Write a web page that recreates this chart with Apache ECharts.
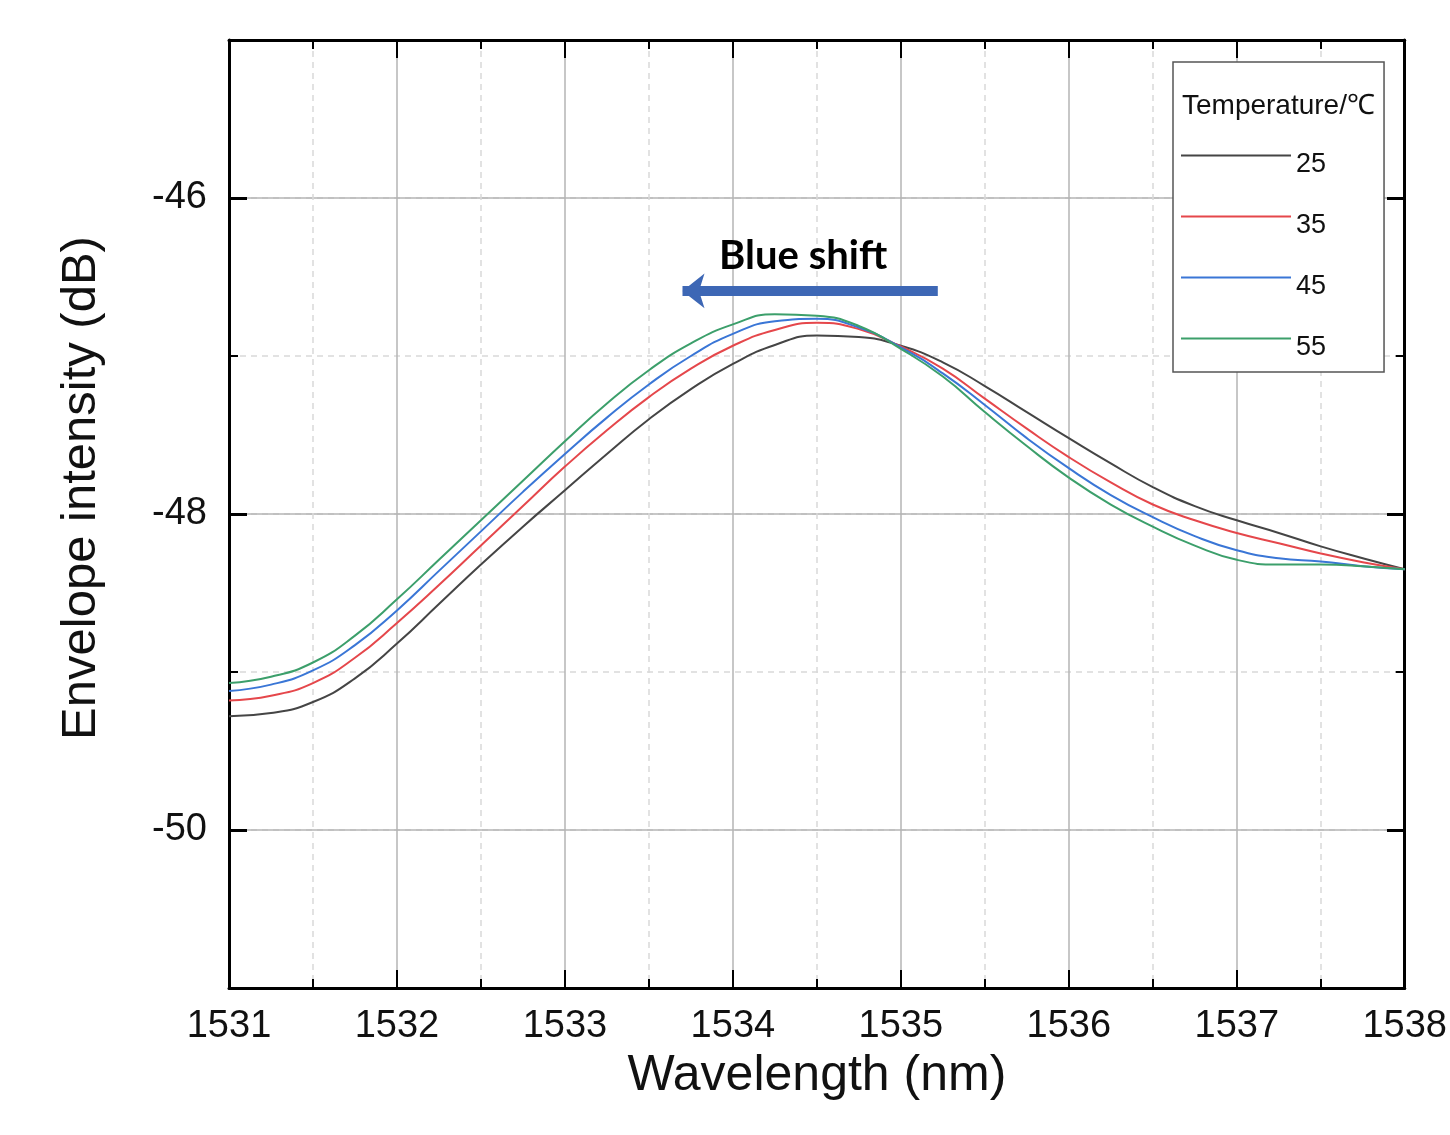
<!DOCTYPE html>
<html>
<head>
<meta charset="utf-8">
<script src="https://cdn.jsdelivr.net/npm/echarts@6/dist/echarts.min.js"></script>
<style>
  html, body { margin: 0; padding: 0; background: #fff; }
  #chart { width: 1450px; height: 1135px; }
</style>
</head>
<body>
<div id="chart"></div>
<script>
// ---- data ----
const wavelength = [1531, 1531.25, 1531.5, 1531.75, 1532, 1532.25, 1532.5, 1532.75, 1533, 1533.25,
  1533.5, 1533.75, 1534, 1534.25, 1534.5, 1534.75, 1535, 1535.25, 1535.5, 1535.75,
  1536, 1536.25, 1536.5, 1536.75, 1537, 1537.25, 1537.5, 1537.75, 1538];
const seriesNames = ['25', '35', '45', '55'];
const t25 = [-49.28, -49.26, -49.19, -49.04, -48.82, -48.57, -48.32, -48.08, -47.85, -47.62,
  -47.40, -47.21, -47.05, -46.93, -46.87, -46.88, -46.935, -47.04, -47.19, -47.355,
  -47.52, -47.68, -47.83, -47.95, -48.04, -48.12, -48.205, -48.28, -48.35];
const t35 = [-49.18, -49.15, -49.07, -48.91, -48.69, -48.45, -48.20, -47.95, -47.70, -47.47,
  -47.26, -47.08, -46.935, -46.835, -46.79, -46.83, -46.94, -47.08, -47.27, -47.46,
  -47.64, -47.80, -47.94, -48.04, -48.12, -48.185, -48.25, -48.305, -48.35];
const t45 = [-49.12, -49.08, -48.99, -48.83, -48.61, -48.36, -48.11, -47.86, -47.62, -47.39,
  -47.18, -47.00, -46.86, -46.78, -46.765, -46.82, -46.945, -47.11, -47.31, -47.52,
  -47.71, -47.88, -48.02, -48.14, -48.23, -48.28, -48.30, -48.33, -48.35];
const t55 = [-49.07, -49.03, -48.94, -48.77, -48.54, -48.29, -48.04, -47.79, -47.54, -47.30,
  -47.09, -46.92, -46.80, -46.735, -46.745, -46.81, -46.955, -47.13, -47.355, -47.57,
  -47.77, -47.94, -48.08, -48.20, -48.29, -48.32, -48.32, -48.33, -48.35];
const xRange = [1531, 1538];
const yRange = [-51, -45];
const yMajorRange = [-50, -46];
// "Blue shift" arrow (data coordinates)
const arrowFrom = [1533.70, -46.588];
const arrowTo = [1535.22, -46.588];

const colors = ['#454545', '#e5474b', '#3a76d6', '#3c9f6b'];
const allValues = [t25, t35, t45, t55];

const FONT = '"Liberation Sans", Arial, sans-serif';
const solidGrid = '#b4b4b4';
const dashGrid = '#d9d9d9';

const chart = echarts.init(document.getElementById('chart'), null, { renderer: 'canvas' });

const series = seriesNames.map((name, k) => ({
  name: name,
  type: 'line',
  xAxisIndex: 0,
  yAxisIndex: 0,
  smooth: 0.5,
  showSymbol: false,
  symbol: 'none',
  lineStyle: { color: colors[k], width: 2 },
  itemStyle: { color: colors[k] },
  z: 3,
  data: wavelength.map((x, i) => [x, allValues[k][i]])
}));

series[0].markLine = {
  silent: true,
  animation: false,
  symbol: ['arrow', 'none'],
  symbolSize: [26, 22],
  lineStyle: { color: '#3d67b5', width: 10, type: 'solid' },
  label: {
    show: true,
    position: 'middle',
    formatter: 'Blue shift',
    fontFamily: 'Lato, "Open Sans", sans-serif',
    fontWeight: 'bold',
    fontSize: 40,
    color: '#000',
    distance: 15,
    padding: [0, 14, 0, 0]
  },
  z: 5,
  data: [[{ coord: arrowFrom }, { coord: arrowTo }]]
};

const option = {
  animation: false,
  backgroundColor: '#fff',
  color: colors,
  grid: [
    { left: 229, right: 45, top: 40, bottom: 147 },
    { left: 229, right: 45, top: 198, bottom: 305 }
  ],
  title: {
    text: 'Temperature/℃',
    left: 1177, top: 87,
    textStyle: { fontFamily: FONT, fontSize: 28, fontWeight: 'normal', color: '#111' }
  },
  legend: {
    orient: 'vertical',
    left: 1173, top: 62,
    padding: [71, 58, 11, 8],
    itemWidth: 110, itemHeight: 2,
    itemGap: 16,
    icon: 'rect',
    borderColor: '#555', borderWidth: 1.5,
    backgroundColor: '#fff',
    formatter: '{t|{name}}',
    textStyle: {
      fontFamily: FONT, fontSize: 27, color: '#111',
      rich: {
        t: { fontFamily: FONT, fontSize: 27, color: '#111', lineHeight: 30, padding: [18, 0, 0, 0] }
      }
    },
    data: seriesNames
  },
  xAxis: [
    {
      gridIndex: 0, type: 'value', position: 'bottom',
      min: xRange[0], max: xRange[1], interval: 1,
      axisLine: { show: true, onZero: false, lineStyle: { color: '#000', width: 3 } },
      axisTick: { show: true, inside: true, length: 18, lineStyle: { color: '#000', width: 2 } },
      minorTick: { show: true, splitNumber: 2, length: 9, lineStyle: { color: '#000', width: 2 } },
      splitLine: { show: true, lineStyle: { color: solidGrid, width: 1.5 } },
      minorSplitLine: { show: true, lineStyle: { color: dashGrid, width: 1.5, type: [6, 5] } },
      axisLabel: { show: true, margin: 20, fontFamily: FONT, fontSize: 38, color: '#111',
        showMinLabel: true, showMaxLabel: true, formatter: v => String(v) },
      name: 'Wavelength (nm)', nameLocation: 'middle', nameGap: 62,
      nameTextStyle: { fontFamily: FONT, fontSize: 50, color: '#111' }
    },
    {
      gridIndex: 0, type: 'value', position: 'top',
      min: xRange[0], max: xRange[1], interval: 1,
      axisLine: { show: true, onZero: false, lineStyle: { color: '#000', width: 3 } },
      axisTick: { show: true, inside: true, length: 18, lineStyle: { color: '#000', width: 2 } },
      minorTick: { show: true, splitNumber: 2, length: 9, lineStyle: { color: '#000', width: 2 } },
      splitLine: { show: false },
      axisLabel: { show: false }
    },
    {
      gridIndex: 1, type: 'value', show: false,
      min: xRange[0], max: xRange[1], interval: 1
    }
  ],
  yAxis: [
    {
      gridIndex: 0, type: 'value', position: 'left',
      min: yRange[0], max: yRange[1], interval: 1,
      axisLine: { show: true, onZero: false, lineStyle: { color: '#000', width: 3 } },
      axisTick: { show: true, inside: true, length: 9, lineStyle: { color: '#000', width: 2 } },
      splitLine: { show: true, lineStyle: { color: dashGrid, width: 1.5, type: [6, 5] } },
      axisLabel: { show: false }
    },
    {
      gridIndex: 0, type: 'value', position: 'right',
      min: yRange[0], max: yRange[1], interval: 1,
      axisLine: { show: true, onZero: false, lineStyle: { color: '#000', width: 3 } },
      axisTick: { show: true, inside: true, length: 9, lineStyle: { color: '#000', width: 2 } },
      splitLine: { show: false },
      axisLabel: { show: false }
    },
    {
      gridIndex: 1, type: 'value', position: 'left',
      min: yMajorRange[0], max: yMajorRange[1], interval: 2,
      axisLine: { show: false },
      axisTick: { show: true, inside: true, length: 18, lineStyle: { color: '#000', width: 3 } },
      splitLine: { show: true, lineStyle: { color: solidGrid, width: 1.5 } },
      axisLabel: { show: true, margin: 22, fontFamily: FONT, fontSize: 38, color: '#111',
        formatter: v => String(v) }
    },
    {
      gridIndex: 1, type: 'value', position: 'right',
      min: yMajorRange[0], max: yMajorRange[1], interval: 2,
      axisLine: { show: false },
      axisTick: { show: true, inside: true, length: 18, lineStyle: { color: '#000', width: 3 } },
      splitLine: { show: false },
      axisLabel: { show: false }
    }
  ],
  graphic: [
    {
      type: 'text',
      x: 81, y: 488,
      rotation: Math.PI / 2,
      style: {
        text: 'Envelope intensity (dB)',
        font: '49px "Liberation Sans", Arial, sans-serif',
        fill: '#111',
        align: 'center',
        verticalAlign: 'middle'
      }
    }
  ],
  series: series
};

chart.setOption(option);
</script>
</body>
</html>
